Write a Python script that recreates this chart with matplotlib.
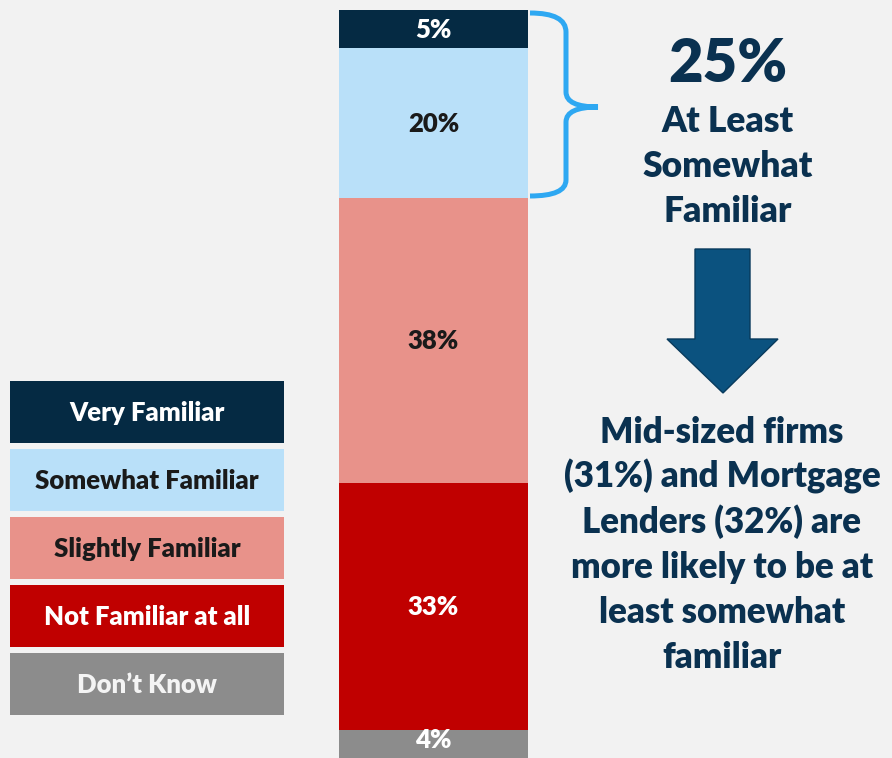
import matplotlib.pyplot as plt
from matplotlib.patches import Rectangle, Polygon, PathPatch
from matplotlib.path import Path

plt.rcParams['font.family'] = ['Lato', 'DejaVu Sans']
plt.rcParams['font.weight'] = 'heavy'

# данные (снизу вверх)
categories = ["Don\u2019t Know", "Not Familiar at all", "Slightly Familiar",
              "Somewhat Familiar", "Very Familiar"]
values = [4, 33, 38, 20, 5]
colors = ['#8c8c8c', '#c00000', '#e8928a', '#b9e0f9', '#052a43']
text_colors = ['white', 'white', '#1a1a1a', '#1a1a1a', 'white']

total_label = "25%"
total_caption = ["At Least", "Somewhat", "Familiar"]
note_lines = ["Mid-sized firms", "(31%) and Mortgage", "Lenders (32%) are",
              "more likely to be at", "least somewhat", "familiar"]

navy = '#0a3150'
bg = '#f2f2f2'
W, H = 892, 758
wt = 'heavy'

fig = plt.figure(figsize=(W / 100, H / 100), dpi=100)
fig.patch.set_facecolor(bg)

# столбец
bar_ax = fig.add_axes([339 / W, (H - 760) / H, 189 / W, 750 / H])
bar_ax.set_xlim(-0.5, 0.5)
bar_ax.set_ylim(0, 100)
bar_ax.axis('off')
bottom = 0
for v, c, tc in zip(values, colors, text_colors):
    bar_ax.bar(0, v, bottom=bottom, width=1.0, color=c, linewidth=0)
    lab_y = bottom + v / 2 - 1.2
    if v < 5:
        lab_y += 0.8
    bar_ax.text(0, lab_y, f"{v}%", ha='center', va='baseline',
                fontsize=18.5, color=tc, fontweight=wt)
    bottom += v

# остальное в пиксельных координатах
ax = fig.add_axes([0, 0, 1, 1])
ax.set_xlim(0, W)
ax.set_ylim(H, 0)
ax.axis('off')
ax.patch.set_alpha(0)

# легенда (сверху вниз)
for i, (name, c, tc) in enumerate(zip(categories[::-1], colors[::-1], text_colors[::-1])):
    y0 = 381 + i * 68
    ax.add_patch(Rectangle((10, y0), 274, 62, facecolor=c, edgecolor='none'))
    tcol = '#f4f4f4' if name.startswith("Don") else tc
    ax.text(147, y0 + 31 + 9, name, ha='center', va='baseline', fontsize=18.5,
            color=tcol, fontweight=wt)

# фигурная скобка
verts = [(530, 13), (566, 13), (566, 32),
         (566, 92),
         (566, 107), (598, 107),
         (566, 107), (566, 122),
         (566, 180),
         (566, 196), (530, 196)]
codes = [Path.MOVETO, Path.CURVE3, Path.CURVE3,
         Path.LINETO,
         Path.CURVE3, Path.CURVE3,
         Path.CURVE3, Path.CURVE3,
         Path.LINETO,
         Path.CURVE3, Path.CURVE3]
ax.add_patch(PathPatch(Path(verts, codes), facecolor='none', edgecolor='#2ea8f2',
                       linewidth=3.6, capstyle='butt'))

# итоговые подписи
ax.text(728, 82, total_label, ha='center', va='baseline', fontsize=43,
        color=navy, fontweight=wt)
for k, line in enumerate(total_caption):
    ax.text(728, 132 + 45 * k, line, ha='center', va='baseline', fontsize=25.5,
            color=navy, fontweight=wt)

# стрелка
arrow = [(695, 249), (750, 249), (750, 339), (778, 339), (723, 393),
         (667, 339), (695, 339)]
ax.add_patch(Polygon(arrow, closed=True, facecolor='#0b527f', edgecolor='#083a5c',
                     linewidth=1))

for k, line in enumerate(note_lines):
    ax.text(722, 443 + 45 * k, line, ha='center', va='baseline', fontsize=25,
            color=navy, fontweight=wt)

fig.savefig('out.png', dpi=100, facecolor=bg)
